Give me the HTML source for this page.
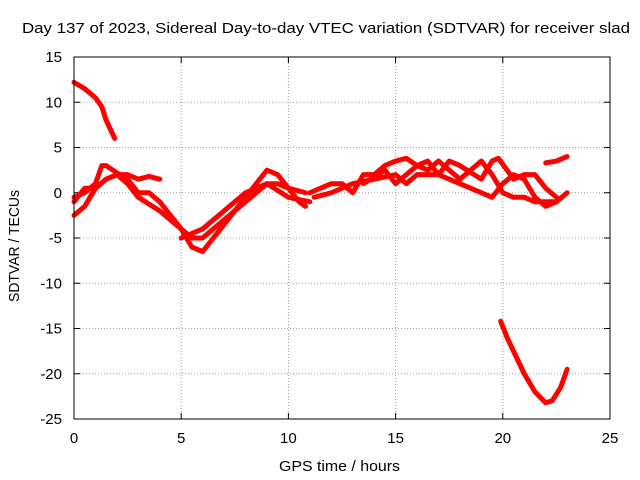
<!DOCTYPE html>
<html><head><meta charset="utf-8"><style>
body{margin:0;background:#fff;}
svg{display:block;font-family:"Liberation Sans",sans-serif;}
</style></head><body>
<svg id="chart" width="640" height="480" viewBox="0 0 640 480">
<text x="22" y="33" font-size="15" textLength="608" lengthAdjust="spacingAndGlyphs">Day 137 of 2023, Sidereal Day-to-day VTEC variation (SDTVAR) for receiver slad</text>
<text x="279" y="471" font-size="15" textLength="121" lengthAdjust="spacingAndGlyphs">GPS time / hours</text>
<text transform="translate(19,302) rotate(-90)" font-size="15" textLength="112" lengthAdjust="spacingAndGlyphs">SDTVAR / TECUs</text>
<g id="grid"></g><g id="series"></g>
<rect x="74" y="57" width="536" height="362" fill="none" stroke="#000" stroke-width="1"/>
</svg>
<script>
const xTicks=[0,5,10,15,20,25];
const yTicks=[15,10,5,0,-5,-10,-15,-20,-25];
const sA=[[0,12.2],[0.5,11.5],[1,10.5],[1.3,9.5],[1.5,8],[1.8,6.5],[1.9,6]];
const sB=[[0,-2.5],[0.5,-1.5],[1,0.5],[1.5,1.5],[2,2],[2.5,2],[3,1.5],[3.5,1.8],[4,1.5]];
const sC=[[0,-0.5],[0.5,0],[1,1],[1.3,3],[1.5,3],[2,2.2],[2.5,1.5],[3,0],[3.5,0],[4,-1],[4.5,-2.5],[5,-4],[5.5,-6],[6,-6.5],[6.5,-5],[7,-3.5],[7.5,-2],[8,-0.5],[8.5,1],[9,2.5],[9.5,2],[10,0.5],[10.5,-1],[10.8,-1.5]];
const sD=[[0,-1],[0.5,0.5],[1,0.5],[1.5,1.5],[2,2],[2.5,1],[3,-0.5],[4,-2],[5,-4],[5.5,-5],[6,-5],[6.5,-4],[7,-3],[8,-1],[8.5,0],[9,1],[9.5,1],[10,0.5],[10.8,0]];
const sE=[[5,-5],[6,-4],[7,-2],[8,0],[9,1],[10,-0.5],[11,-1]];
const sF=[[11,0],[11.5,0.5],[12,1],[12.5,1],[13,0],[13.5,2],[14,2],[14.5,3],[15,3.5],[15.5,3.8],[16,3],[16.5,2.5],[17,3.5],[17.5,2.5],[18,1.5],[18.5,2.5],[19,3.5],[19.5,2],[20,0],[20.5,-0.5],[21,-0.5],[21.5,-1],[22,-1],[22.5,-1],[23,0]];
const sG=[[11.2,-0.5],[12,0],[13,1],[14,1.5],[15,2],[15.5,1],[16,2],[17,2],[18,1],[19,0],[19.5,-0.5],[20,1],[20.5,2],[21,1.5],[21.5,-0.5],[22,-1.5],[22.5,-1]];
const sH=[[13.5,1],[14.5,2.5],[15,1],[16,3],[16.5,3.5],[17,2],[17.5,3.5],[18,3],[19,1.5],[19.5,3.5],[19.8,3.8],[20.5,1.5],[21,2],[21.5,2],[22,0.5],[22.5,-0.5]];
const sI=[[22,3.3],[22.5,3.5],[23,4]];
const sJ=[[19.9,-14.2],[20.2,-16],[20.5,-17.5],[21,-20],[21.5,-22],[22,-23.2],[22.3,-23],[22.7,-21.5],[23,-19.5]];
const allSeries=[sA,sB,sC,sD,sE,sF,sG,sH,sI,sJ];
const X=v=>74+v*(536/25), Y=v=>419-(v+25)*(362/40);
const NS="http://www.w3.org/2000/svg";
const g=document.getElementById('grid'), s=document.getElementById('series');
function mk(tag,at,parent){const e=document.createElementNS(NS,tag);for(const k in at)e.setAttribute(k,at[k]);parent.appendChild(e);return e;}
xTicks.forEach(t=>{
 if(t>0&&t<25){const l=mk('line',{x1:X(t),x2:X(t),y1:57,y2:419,stroke:'#a0a0a0','stroke-dasharray':'1,2'},g);
 
 }
 mk('line',{x1:X(t),x2:X(t),y1:419,y2:413,stroke:'#000'},g);
 mk('line',{x1:X(t),x2:X(t),y1:57,y2:63,stroke:'#000'},g);
 const tx=mk('text',{x:X(t),y:443,'font-size':15,'text-anchor':'middle'},g);tx.textContent=t;
 
 
});
yTicks.forEach(t=>{
 if(t>-25&&t<15){const l=mk('line',{x1:74,x2:610,y1:Y(t),y2:Y(t),stroke:'#a0a0a0','stroke-dasharray':'1,2'},g);
 
 }
 mk('line',{x1:74,x2:80,y1:Y(t),y2:Y(t),stroke:'#000'},g);
 mk('line',{x1:604,x2:610,y1:Y(t),y2:Y(t),stroke:'#000'},g);
 const tx=mk('text',{x:62,y:Y(t)+5,'font-size':15,'text-anchor':'end'},g);tx.textContent=t;
 
 
});
allSeries.forEach((d,i)=>{
 const p=mk('polyline',{points:d.map(q=>X(q[0])+','+Y(q[1])).join(' '),fill:'none',stroke:'#ff0000','stroke-width':5,'stroke-linejoin':'round','stroke-linecap':'round'},s);
 
 
});
</script>
</body></html>
